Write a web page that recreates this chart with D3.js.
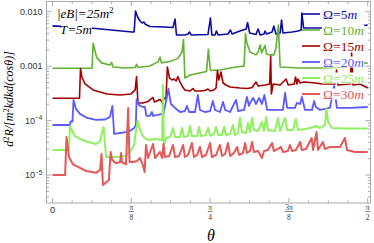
<!DOCTYPE html>
<html>
<head>
<meta charset="utf-8">
<script src="https://cdnjs.cloudflare.com/ajax/libs/d3/7.8.5/d3.min.js"></script>
<style>
  body { margin: 0; background: #fff; }
  svg { display: block; }
</style>
</head>
<body>
<script>
// theta in degrees (0..90 = 0..pi/2), rate in m^-2
const omega5 = [[0,5.5e-3],[11.6,4.97e-3],[22.7,4.24e-3],[23.3,4.24e-3],[23.7,1.03e-2],[24.3,8.0e-3],[25.0,6.75e-3],[25.6,6.2e-3],[26.1,6.47e-3],[26.4,5.95e-3],[27.8,5.35e-3],[32.1,5.24e-3],[34.4,5.13e-3],[35.0,7.35e-3],[35.4,3.74e-3],[37.8,3.74e-3],[38.7,3.9e-3],[39.1,4.24e-3],[39.6,3.74e-3],[44.4,3.82e-3],[45.1,7.67e-3],[45.5,3.74e-3],[46.4,3.74e-3],[46.8,4.42e-3],[47.3,3.74e-3],[50.1,3.9e-3],[50.8,4.62e-3],[51.3,3.9e-3],[53.5,4.42e-3],[55.3,4.82e-3],[55.7,6.34e-3],[56.3,4.06e-3],[58.1,3.82e-3],[58.7,4.82e-3],[59.3,3.74e-3],[60.4,3.9e-3],[60.7,4.42e-3],[61.1,3.9e-3],[62.7,4.24e-3],[63.2,5.44e-3],[63.8,3.9e-3],[65.0,4.06e-3],[65.4,7.05e-3],[65.8,4.06e-3],[68.4,4.24e-3],[70.1,4.42e-3],[71.0,4.62e-3],[71.2,9.46e-3],[71.7,5.03e-3],[76.4,5.03e-3],[82.1,5.24e-3],[86.4,5.35e-3],[90,5.7e-3]];
const omega10 = [[0,9.16e-4],[11.3,9.16e-4],[11.6,2.63e-3],[12.6,1.45e-3],[14.0,1.15e-3],[16.4,1.05e-3],[16.9,1.17e-3],[17.3,9.65e-4],[20.7,9.26e-4],[23.6,9.45e-4],[24.0,1.08e-3],[24.4,9.45e-4],[27.8,1.01e-3],[30.1,1.2e-3],[30.7,1.47e-3],[31.1,1.15e-3],[33.6,1.22e-3],[35.8,1.39e-3],[37.0,1.82e-3],[37.4,3.09e-3],[37.8,6.07e-4],[39.3,6.89e-4],[44.0,7.98e-4],[44.5,2.03e-3],[45.1,8.33e-4],[47.8,8.51e-4],[50.7,9.26e-4],[53.5,9.86e-4],[54.7,1.0e-3],[55.1,3.98e-3],[55.5,2.66e-3],[56.4,1.82e-3],[58.1,1.61e-3],[58.7,1.82e-3],[59.3,2.45e-3],[59.7,1.75e-3],[60.7,2.4e-3],[61.1,1.68e-3],[62.1,1.61e-3],[63.2,1.61e-3],[63.8,2.16e-3],[64.5,5.7e-3],[65.0,9.65e-4],[67.8,9.45e-4],[70.7,9.26e-4],[76.4,9.26e-4],[83.5,9.65e-4],[87.8,1.1e-3],[90,1.15e-3]];
const omega15 = [[0,2.57e-4],[7.7,2.57e-4],[8.0,9.06e-4],[8.4,6.33e-4],[9.3,4.71e-4],[11.6,3.66e-4],[15.6,3.09e-4],[19.3,2.96e-4],[22.4,3.09e-4],[23.6,3.66e-4],[24.0,6.46e-4],[24.4,2.11e-4],[25.8,2.11e-4],[27.3,2.25e-4],[27.8,2.4e-4],[28.7,2.66e-4],[29.1,2.2e-4],[30.1,2.35e-4],[30.7,2.45e-4],[31.3,2.2e-4],[31.8,2.61e-4],[32.4,2.5e-4],[32.8,9.65e-4],[33.4,6.07e-4],[34.1,5.57e-4],[34.7,5.81e-4],[35.3,5.34e-4],[35.8,6.46e-4],[36.4,5.12e-4],[37.0,4.33e-4],[37.8,3.66e-4],[39.3,3.5e-4],[40.1,3.89e-4],[40.7,3.5e-4],[42.1,3.5e-4],[43.5,3.57e-4],[44.4,3.81e-4],[45.0,3.5e-4],[46.1,3.66e-4],[46.7,3.97e-4],[47.1,8.33e-4],[47.5,5.57e-4],[48.1,7.82e-4],[48.7,4.91e-4],[49.5,4.51e-4],[50.7,4.15e-4],[53.5,3.97e-4],[55.8,3.89e-4],[57.0,4.06e-4],[58.1,5.12e-4],[58.7,4.33e-4],[60.7,4.51e-4],[62.0,4.71e-4],[62.3,1.51e-3],[62.5,3.09e-4],[63.0,4.71e-4],[65.0,4.51e-4],[66.7,5.81e-4],[67.3,4.51e-4],[69.0,4.71e-4],[69.4,6.33e-4],[69.8,4.71e-4],[70.1,5.81e-4],[70.7,4.91e-4],[71.8,5.12e-4],[75.0,4.91e-4],[77.0,4.71e-4],[80.7,4.71e-4],[81.1,8.51e-4],[81.5,4.51e-4],[85.0,4.71e-4],[85.4,1.75e-3],[85.8,4.51e-4],[87.8,4.71e-4],[90,3.97e-4]];
const omega20 = [[0,8.32e-5],[5.0,8.32e-5],[5.14,9.64e-5],[5.7,9.64e-5],[6.0,2.4e-4],[6.7,1.64e-4],[7.85,1.33e-4],[9.85,1.12e-4],[12.4,1.03e-4],[15.0,1.05e-4],[16.4,1.17e-4],[17.1,1.86e-4],[17.6,5.69e-5],[19.3,5.93e-5],[21.3,6.19e-5],[22.1,6.46e-5],[23.3,7.33e-5],[23.8,8.32e-5],[24.0,2.45e-4],[24.7,1.93e-4],[25.8,1.78e-4],[26.4,1.78e-4],[26.8,1.22e-4],[27.8,1.22e-4],[28.4,1.44e-4],[28.7,1.22e-4],[30.1,1.27e-4],[31.3,1.33e-4],[31.6,1.22e-4],[33.1,3.81e-4],[33.8,2.02e-4],[35.0,1.71e-4],[36.4,1.44e-4],[37.8,1.5e-4],[38.4,1.86e-4],[39.0,1.44e-4],[40.7,1.44e-4],[41.5,2.96e-4],[42.1,1.57e-4],[43.5,1.44e-4],[45.0,1.5e-4],[45.8,2.3e-4],[46.4,1.57e-4],[47.8,1.44e-4],[48.7,2.2e-4],[49.3,1.57e-4],[50.7,1.44e-4],[52.4,2.4e-4],[53.0,1.5e-4],[54.7,1.57e-4],[55.5,2.72e-4],[56.1,1.86e-4],[56.4,2.11e-4],[57.3,2.61e-4],[58.1,2.02e-4],[59.0,2.61e-4],[59.8,2.02e-4],[60.5,2.96e-4],[61.3,1.57e-4],[65.8,1.57e-4],[66.4,3.22e-4],[67.0,1.71e-4],[69.2,1.71e-4],[69.8,2.11e-4],[70.7,2.02e-4],[71.2,2.72e-4],[72.1,1.57e-4],[74.1,1.57e-4],[74.7,2.3e-4],[75.2,1.78e-4],[76.4,1.57e-4],[79.2,1.71e-4],[80.4,4.33e-4],[81.2,1.71e-4],[85.0,1.71e-4],[90,1.78e-4]];
const omega25 = [[0,2.89e-5],[4.7,2.89e-5],[5.0,7.97e-5],[5.6,6.46e-5],[6.4,5.23e-5],[7.85,4.61e-5],[10.1,4.06e-5],[12.4,3.73e-5],[13.6,4.23e-5],[14.1,5.93e-5],[14.6,7.65e-5],[15.0,3.57e-5],[15.3,2.15e-5],[17.85,2.15e-5],[20.7,2.24e-5],[22.1,2.66e-5],[23.3,3.57e-5],[23.8,6.19e-5],[24.3,9.85e-5],[25.0,6.73e-5],[25.8,5.23e-5],[26.7,4.61e-5],[27.8,4.41e-5],[29.3,4.61e-5],[31.3,4.41e-5],[31.55,4.51e-4],[31.8,3.43e-5],[32.4,4.8e-5],[33.55,5.01e-5],[34.4,7.33e-5],[35.0,5.01e-5],[36.4,5.01e-5],[37.0,7.33e-5],[37.55,5.01e-5],[38.7,5.23e-5],[39.3,7.97e-5],[39.8,5.23e-5],[41.3,5.23e-5],[41.8,7.65e-5],[42.4,5.23e-5],[43.8,5.45e-5],[44.4,7.33e-5],[45.0,5.23e-5],[46.1,5.69e-5],[46.7,7.65e-5],[47.3,5.45e-5],[48.4,5.45e-5],[49.0,7.65e-5],[49.5,5.45e-5],[50.7,5.69e-5],[51.5,8.32e-5],[52.1,5.45e-5],[53.0,5.93e-5],[53.5,1.12e-4],[54.1,6.19e-5],[55.25,5.93e-5],[55.8,9.05e-5],[56.4,6.19e-5],[57.0,1.12e-4],[57.5,6.73e-5],[58.7,6.46e-5],[59.8,9.44e-5],[60.4,6.46e-5],[61.0,1.17e-4],[61.5,6.73e-5],[63.5,6.46e-5],[64.4,1.12e-4],[65.0,6.46e-5],[66.4,1.12e-4],[67.0,6.73e-5],[68.7,6.73e-5],[69.5,1.08e-4],[70.1,6.73e-5],[72.1,7.03e-5],[73.5,7.33e-5],[75.2,7.97e-5],[76.4,7.33e-5],[77.8,8.32e-5],[78.2,1.64e-4],[78.7,9.44e-5],[79.8,7.33e-5],[83.5,7.18e-5],[90,7.18e-5]];
const omega30 = [[0,1.0e-5],[3.6,1.0e-5],[4.0,5.01e-5],[4.7,2.15e-5],[5.85,1.58e-5],[7.3,1.41e-5],[9.6,1.19e-5],[12.4,1.1e-5],[13.6,1.25e-5],[14.0,2.44e-5],[14.4,6.59e-6],[16.1,8.14e-6],[16.6,2.66e-5],[17.0,1.9e-5],[18.1,1.65e-5],[19.3,1.74e-5],[19.6,2.55e-5],[19.8,1.74e-5],[21.0,1.58e-5],[21.6,1.71e-4],[22.0,1.74e-5],[23.0,1.74e-5],[24.1,1.82e-5],[25.0,2.06e-5],[25.8,1.53e-5],[26.3,1.14e-5],[26.7,3.57e-5],[27.3,2.06e-5],[28.7,3.73e-5],[29.3,2.06e-5],[30.7,2.66e-5],[31.3,2.06e-5],[31.7,3.73e-5],[32.1,2.15e-5],[33.3,2.24e-5],[34.4,3.57e-5],[35.0,2.15e-5],[36.1,2.24e-5],[37.3,3.57e-5],[37.8,2.15e-5],[38.7,2.34e-5],[39.8,3.89e-5],[40.4,2.15e-5],[41.3,2.34e-5],[42.1,3.29e-5],[42.7,2.15e-5],[43.8,2.34e-5],[45.0,3.89e-5],[45.5,2.15e-5],[46.7,2.34e-5],[47.8,3.57e-5],[48.4,2.24e-5],[49.3,2.44e-5],[50.1,3.89e-5],[50.7,2.24e-5],[51.8,2.55e-5],[52.7,3.29e-5],[53.3,2.34e-5],[54.4,2.55e-5],[55.0,3.89e-5],[55.5,2.55e-5],[56.4,2.77e-5],[57.0,4.06e-5],[57.5,2.66e-5],[58.7,2.77e-5],[59.8,2.06e-5],[60.4,2.77e-5],[61.5,2.89e-5],[62.7,3.89e-5],[63.2,2.77e-5],[64.4,3.02e-5],[65.2,3.29e-5],[65.8,2.66e-5],[67.2,2.77e-5],[67.8,3.57e-5],[68.4,2.77e-5],[69.5,2.89e-5],[70.7,4.06e-5],[71.2,2.89e-5],[72.4,3.02e-5],[74.0,4.8e-5],[74.4,2.89e-5],[75.4,6.19e-5],[75.8,2.89e-5],[77.2,4.06e-5],[77.8,3.02e-5],[79.2,3.29e-5],[82.1,3.29e-5],[83.5,4.8e-5],[84.1,2.89e-5],[86.4,2.66e-5],[90,2.66e-5]];

const omegaLabels = ["5", "10", "15", "20", "25", "30"];
const xTickValues = [0, 22.5, 45, 67.5, 90];
const xTickNumer = ["0", "π", "π", "3π", "π"];
const xTickDenom = ["", "8", "4", "8", "2"];
const yTickValues = [1e-2, 1e-3, 1e-4, 1e-5];
const yTickBase = ["0.010", "0.001", "10", "10"];
const yTickExp = ["", "", "−4", "−5"];

const series = [omega5, omega10, omega15, omega20, omega25, omega30];
const colors = ["#0b0ba6", "#62b034", "#a30000", "#5a5aff", "#8ff060", "#e35858"];
const widths = [1.6, 1.6, 1.6, 1.8, 2, 2];

const W = 374, H = 243;
const frame = { left: 46.5, right: 370.5, top: 1.5, bottom: 203 };

const x = d3.scaleLinear().domain([0, 90]).range([52.5, 367.7]);
const y = d3.scaleLog().domain([1e-5, 1e-2]).range([175.1, 11.7]);

const svg = d3.select("body").append("svg")
  .attr("width", W)
  .attr("height", H);

// frame
svg.append("rect")
  .attr("x", frame.left).attr("y", frame.top)
  .attr("width", frame.right - frame.left)
  .attr("height", frame.bottom - frame.top)
  .attr("fill", "none").attr("stroke", "#aaa").attr("stroke-width", 1);

let ticks = svg.append("g").attr("stroke", "#aaa").attr("stroke-width", 1);

// x ticks, bottom and top
d3.range(0, 90.01, 5.625).forEach(function (t, i) {
  let len = i % 4 == 0 ? 5 : 2.6;
  let px = x(t);
  ticks.append("line").attr("x1", px).attr("x2", px)
    .attr("y1", frame.bottom).attr("y2", frame.bottom - len);
  ticks.append("line").attr("x1", px).attr("x2", px)
    .attr("y1", frame.top).attr("y2", frame.top + len);
});

// y ticks, left and right
let yLo = y.invert(frame.bottom), yHi = y.invert(frame.top);
[1e-6, 1e-5, 1e-4, 1e-3, 1e-2].forEach(function (dec) {
  d3.range(1, 10).forEach(function (k) {
    let v = k * dec;
    if (v < yLo || v > yHi) return;
    let len = k == 1 ? 5 : 2.6;
    let py = y(v);
    ticks.append("line").attr("x1", frame.left).attr("x2", frame.left + len)
      .attr("y1", py).attr("y2", py);
    ticks.append("line").attr("x1", frame.right).attr("x2", frame.right - len)
      .attr("y1", py).attr("y2", py);
  });
});

// y tick labels
yTickValues.forEach(function (v, i) {
  let t = svg.append("text")
    .attr("x", 42.5).attr("y", y(v) + 3.2)
    .attr("text-anchor", "end")
    .attr("font-family", "Liberation Sans, Arial, sans-serif")
    .attr("font-size", 9).attr("fill", "#333");
  t.append("tspan").text(yTickBase[i]);
  if (yTickExp[i]) {
    t.append("tspan").attr("dy", -3.5).attr("font-size", 6.5).text(yTickExp[i]);
  }
});

// x tick labels (fractions of pi)
xTickValues.forEach(function (v, i) {
  let px = x(v);
  if (!xTickDenom[i]) {
    svg.append("text").attr("x", px).attr("y", 213.3)
      .attr("text-anchor", "middle")
      .attr("font-family", "Liberation Sans, Arial, sans-serif")
      .attr("font-size", 9.3).attr("fill", "#333")
      .text(xTickNumer[i]);
    return;
  }
  let num = svg.append("text").attr("x", px).attr("y", 209.8)
    .attr("text-anchor", "middle")
    .attr("font-family", "Liberation Serif, serif")
    .attr("font-size", 7.5).attr("fill", "#333")
    .text(xTickNumer[i]);
  let w = num.node().getComputedTextLength();
  svg.append("line")
    .attr("x1", px - w / 2 - 0.5).attr("x2", px + w / 2 + 0.5)
    .attr("y1", 211.5).attr("y2", 211.5)
    .attr("stroke", "#333").attr("stroke-width", 0.6);
  svg.append("text").attr("x", px).attr("y", 219.5)
    .attr("text-anchor", "middle")
    .attr("font-family", "Liberation Serif, serif")
    .attr("font-size", 7.5).attr("fill", "#333")
    .text(xTickDenom[i]);
});

// curves
let line = d3.line()
  .x(function (d) { return x(d[0]); })
  .y(function (d) { return y(d[1]); });

let plot = svg.append("g");
series.forEach(function (data, i) {
  plot.append("path")
    .attr("d", line(data))
    .attr("fill", "none")
    .attr("stroke", colors[i])
    .attr("stroke-width", widths[i])
    .attr("stroke-linejoin", "round");
});

// annotation
let serif = "Liberation Serif, Times New Roman, serif";
let a1 = svg.append("text").attr("x", 57).attr("y", 17.5)
  .attr("font-family", serif).attr("font-size", 13).attr("font-style", "italic");
a1.append("tspan").text("|eB|=25m");
a1.append("tspan").attr("dy", -5).attr("font-size", 9).attr("font-style", "normal").text("2");
let a2g = svg.append("g");
let a2 = a2g.append("text").attr("x", 60).attr("y", 33.5)
  .attr("font-family", serif).attr("font-size", 13).attr("font-style", "italic")
  .text("T=5m");
let a2b = a2.node().getBBox();
a2g.insert("rect", "text")
  .attr("x", a2b.x + 1).attr("y", a2b.y + 2)
  .attr("width", a2b.width - 1).attr("height", a2b.height - 3)
  .attr("fill", "#fff");

// legend
let legend = svg.append("g");
omegaLabels.forEach(function (lab, i) {
  let ly = 14 + i * 16;
  let g = legend.append("g");
  g.append("line").attr("x1", 302).attr("x2", 320)
    .attr("y1", ly).attr("y2", ly)
    .attr("stroke", colors[i]).attr("stroke-width", widths[i]);
  let t = g.append("text").attr("x", 323).attr("y", ly + 4.5)
    .attr("font-family", serif).attr("font-size", 13.5).attr("fill", colors[i]);
  t.append("tspan").text("Ω=" + lab);
  t.append("tspan").attr("font-style", "italic").text("m");
  let bb = t.node().getBBox();
  g.insert("rect", "text")
    .attr("x", bb.x - 1).attr("y", ly - 5.5)
    .attr("width", bb.width + 1).attr("height", 11)
    .attr("fill", "#fff");
});

// axis titles
let yt = svg.append("text")
  .attr("transform", "translate(13,99) rotate(-90)")
  .attr("text-anchor", "middle")
  .attr("font-family", serif).attr("font-size", 12).attr("font-style", "italic");
yt.append("tspan").text("d");
yt.append("tspan").attr("dy", -4.5).attr("font-size", 8.5).attr("font-style", "normal").text("2");
yt.append("tspan").attr("dy", 4.5).text("R/[m");
yt.append("tspan").attr("dy", -4.5).attr("font-size", 8.5).attr("font-style", "normal").text("2");
yt.append("tspan").attr("dy", 4.5).text("kdkd(cosθ)]");

svg.append("text").attr("x", 211).attr("y", 240.5)
  .attr("text-anchor", "middle")
  .attr("font-family", serif).attr("font-size", 16).attr("font-style", "italic")
  .text("θ");
</script>
</body>
</html>
